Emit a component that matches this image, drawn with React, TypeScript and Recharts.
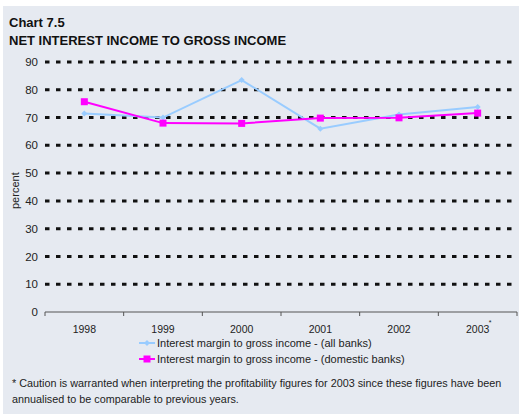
import { CartesianGrid, Line, LineChart, XAxis, YAxis } from "recharts"

const years = ["1998", "1999", "2000", "2001", "2002", "2003"]
const allBanks = [71.5, 70.0, 83.5, 66.0, 71.1, 73.8]
const domesticBanks = [75.7, 68.0, 67.9, 69.8, 69.9, 71.6]
const yTicks = [0, 10, 20, 30, 40, 50, 60, 70, 80, 90]

const data = years.map((year, i) => ({
  year,
  all: allBanks[i],
  domestic: domesticBanks[i],
}))

const W = 519
const H = 414
const PLOT_LEFT = 45
const PLOT_RIGHT = 517
const STEP = (PLOT_RIGHT - PLOT_LEFT) / years.length
const FONT = "'Liberation Sans', Arial, sans-serif"

const BLUE = "#99CCFF"
const MAGENTA = "#FF00FF"

const Diamond = (props: any) => {
  const { cx, cy } = props
  if (cx == null || cy == null) return null
  return <path d={`M${cx},${cy - 3}L${cx + 3},${cy}L${cx},${cy + 3}L${cx - 3},${cy}Z`} fill={BLUE} />
}

const Square = (props: any) => {
  const { cx, cy } = props
  if (cx == null || cy == null) return null
  return <rect x={cx - 3.5} y={cy - 3.5} width={7} height={7} fill={MAGENTA} />
}

const YearTick = (props: any) => {
  const { x, y, payload, index } = props
  const last = index === years.length - 1
  return (
    <g>
      <line x1={x - STEP / 2} y1={y} x2={x - STEP / 2} y2={y + 4} stroke="#555" />
      {last && <line x1={x + STEP / 2} y1={y} x2={x + STEP / 2} y2={y + 4} stroke="#555" />}
      <text x={x} y={y + 21} textAnchor="middle" fontSize={10.5} fill="#222" fontFamily={FONT}>
        {payload.value}
      </text>
      {last && (
        <text x={x + 11} y={y + 13} fontSize={7} fill="#222" fontFamily={FONT}>
          *
        </text>
      )}
    </g>
  )
}

const legendItems = [
  { label: "Interest margin to gross income - (all banks)", color: BLUE, marker: "diamond" },
  { label: "Interest margin to gross income - (domestic banks)", color: MAGENTA, marker: "square" },
]

const LegendBox = () => (
  <div style={{ fontFamily: FONT, fontSize: 11, color: "#222", lineHeight: "16px" }}>
    {legendItems.map((item) => (
      <div key={item.label} style={{ display: "flex", alignItems: "center" }}>
        <svg width={17} height={10} style={{ marginRight: 1 }}>
          <line x1={0} y1={5} x2={16} y2={5} stroke={item.color} strokeWidth={2} />
          {item.marker === "diamond" ? (
            <path d="M8,2L11,5L8,8L5,5Z" fill={item.color} />
          ) : (
            <rect x={4.5} y={1.5} width={7} height={7} fill={item.color} />
          )}
        </svg>
        <span>{item.label}</span>
      </div>
    ))}
  </div>
)

export default function App() {
  return (
    <div style={{ position: "absolute", left: 0, top: 0, width: W, height: H, background: "#fff", overflow: "hidden" }}>
      <div style={{ position: "absolute", left: 3, top: 6, right: 0, bottom: 0, background: "#E6EAF1" }} />
      <div style={{ position: "absolute", left: 9, top: 15, fontFamily: FONT, fontWeight: "bold", fontSize: 13, color: "#111" }}>
        Chart 7.5
      </div>
      <div style={{ position: "absolute", left: 9, top: 33, fontFamily: FONT, fontWeight: "bold", fontSize: 13, color: "#111" }}>
        NET INTEREST INCOME TO GROSS INCOME
      </div>
      <div style={{ position: "absolute", left: 0, top: 0 }}>
        <LineChart width={W} height={H} data={data} margin={{ top: 62, right: W - PLOT_RIGHT, left: 15, bottom: 82 }}>
          <CartesianGrid
            vertical={false}
            horizontalValues={yTicks.filter((t) => t > 0)}
            stroke="#111"
            strokeWidth={3}
            strokeDasharray="4.5 6.5"
          />
          <XAxis
            dataKey="year"
            height={20}
            padding={{ left: STEP / 2, right: STEP / 2 }}
            axisLine={{ stroke: "#555" }}
            tickLine={false}
            tickSize={0}
            tickMargin={0}
            tick={<YearTick />}
            interval={0}
          />
          <YAxis
            width={30}
            domain={[0, 90]}
            ticks={yTicks}
            axisLine={false}
            tickLine={false}
            tickSize={0}
            tickMargin={7}
            tick={{ fontSize: 11.5, fill: "#222", fontFamily: FONT }}
            label={{ value: "percent", angle: -90, position: "insideLeft", offset: 0, fontSize: 11, fill: "#222", fontFamily: FONT, dy: 22 }}
          />
          <Line
            dataKey="all"
            name="Interest margin to gross income - (all banks)"
            stroke={BLUE}
            strokeWidth={2}
            dot={<Diamond />}
            isAnimationActive={false}
          />
          <Line
            dataKey="domestic"
            name="Interest margin to gross income - (domestic banks)"
            stroke={MAGENTA}
            strokeWidth={2}
            dot={<Square />}
            isAnimationActive={false}
          />
        </LineChart>
      </div>
      <div style={{ position: "absolute", left: 139, top: 335 }}>
        <LegendBox />
      </div>
      <div style={{ position: "absolute", left: 12, top: 375, width: 505, fontFamily: FONT, fontSize: 10.8, color: "#222", lineHeight: "16px" }}>
        * Caution is warranted when interpreting the profitability figures for 2003 since these figures have been annualised to be comparable to previous years.
      </div>
    </div>
  )
}
